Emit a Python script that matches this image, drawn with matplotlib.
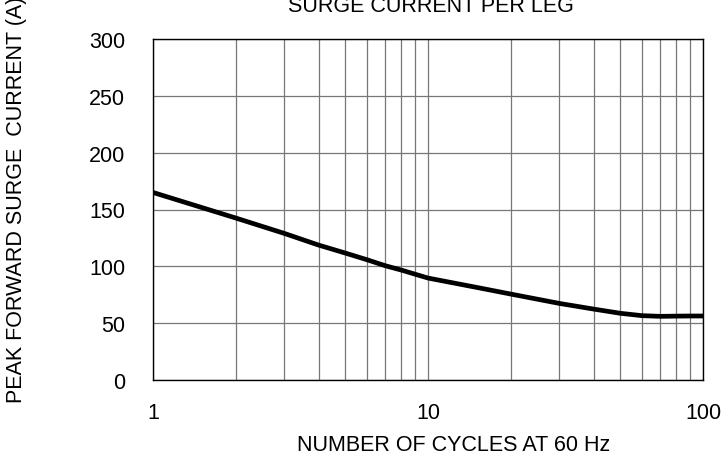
import numpy as np
import matplotlib.pyplot as plt
from matplotlib.ticker import FixedLocator, NullFormatter

plt.rcParams['font.family'] = ['Liberation Sans', 'DejaVu Sans']

# data
cycles = [1, 2, 3, 4, 5, 6, 7, 8, 9, 10, 12, 15, 20, 30, 40, 50, 60, 70, 80, 90, 100]
current = [165, 142.5, 129, 118.7, 111.7, 105.8, 100.5, 96.7, 93, 89.7,
           86, 81.5, 75.6, 67.4, 62.4, 58.7, 56.6, 56, 56.2, 56.3, 56.3]

W, H = 722, 460
fig = plt.figure(figsize=(W / 100, H / 100), dpi=100)
ax = fig.add_axes([153 / W, 1 - 381 / H, 550 / W, 341 / H])

ax.set_xscale('log')
ax.set_xlim(1, 100)
ax.set_ylim(0, 300)

ax.plot(cycles, current, color='black', lw=3.4, solid_capstyle='round',
        solid_joinstyle='round')

ax.xaxis.set_major_locator(FixedLocator([1, 10, 100]))
ax.xaxis.set_minor_locator(FixedLocator([m * d for d in (1, 10) for m in range(2, 10)]))
ax.xaxis.set_minor_formatter(NullFormatter())
ax.set_xticklabels(['1', '10', '100'])
ax.set_yticks(np.arange(0, 301, 50))

ax.grid(True, which='both', color='#777777', lw=0.9)
ax.tick_params(which='both', direction='in', length=0, labelsize=15.5)
ax.tick_params(axis='y', pad=20)
ax.tick_params(axis='x', pad=16)
for s in ax.spines.values():
    s.set_color('black')
    s.set_linewidth(1.0)

fig.text(454 / W, 1 - 446 / H, 'NUMBER OF CYCLES AT 60 Hz', ha='center', va='center', fontsize=15.5)
fig.text(431 / W, 1 - 6 / H, 'SURGE CURRENT PER LEG', ha='center', va='center', fontsize=15.5)
fig.text(17 / W, 1 - 200 / H, 'PEAK FORWARD SURGE  CURRENT (A)', ha='center', va='center',
         rotation=90, fontsize=15.5)

fig.savefig('out.png', dpi=100)
